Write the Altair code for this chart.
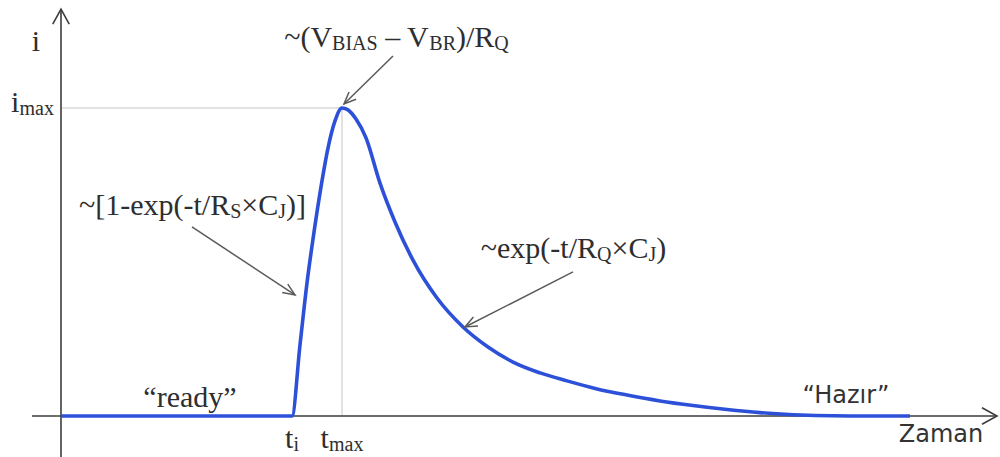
import math
import altair as alt
import pandas as pd

# Current pulse of a quenched avalanche: time t (arbitrary units), current i (fraction of i_max)
t_curve = [0.00, 2.31, 2.39, 2.46, 2.53, 2.60, 2.67, 2.74, 2.81, 2.87, 2.95, 3.05, 3.19,
           3.34, 3.52, 3.76, 4.02, 4.27, 4.52, 4.79, 5.06, 5.36, 5.66, 5.99, 6.32, 6.66,
           6.99, 7.24, 7.54, 7.89, 8.49]
i_curve = [0.0, 0.0, 0.231, 0.432, 0.597, 0.744, 0.870, 0.958, 1.00, 0.994, 0.964, 0.903,
           0.756, 0.63, 0.506, 0.383, 0.289, 0.224, 0.175, 0.140, 0.114, 0.088, 0.068,
           0.049, 0.034, 0.021, 0.011, 0.0058, 0.0016, 0.0, 0.0]

T_I = 2.31      # avalanche trigger
T_MAX = 2.81    # peak time
I_MAX = 1.0     # peak current

# axis extents
T_AXIS = [-0.29, 9.36]
I_AXIS = [-0.14, 1.321]

# annotation arrows: (start t, start i, tip t, tip i)
arrows = [
    (3.32, 1.169, 2.83, 1.013),
    (1.31, 0.614, 2.34, 0.393),
    (5.12, 0.468, 4.04, 0.289),
]

W, H = 1000, 457
T_DOMAIN = [-0.61, 9.39]
I_DOMAIN = [-41 / 308, 416 / 308]
PX_T = W / (T_DOMAIN[1] - T_DOMAIN[0])
PX_I = H / (I_DOMAIN[1] - I_DOMAIN[0])

xs = alt.Scale(domain=T_DOMAIN, nice=False, zero=False)
ys = alt.Scale(domain=I_DOMAIN, nice=False, zero=False)

# Times-metric advance widths (per 1000 em) for laying out subscript runs
ADV = {'~': 541, '(': 333, ')': 333, '[': 333, ']': 333, 'V': 722, 'B': 667, 'I': 333,
       'A': 722, 'S': 556, 'R': 667, 'Q': 722, '–': 500, ' ': 250, '/': 278, '1': 500,
       '-': 333, 'e': 444, 'x': 500, 'p': 500, 't': 278, '×': 564, 'C': 667, 'J': 389,
       'r': 333, 'a': 444, 'd': 500, 'y': 500, 'm': 778, 'i': 278, '“': 444, '”': 444}


def rich(pieces, t_anchor, i_base, anchor="center", main=30, sub=20, drop=3):
    widths = [sum(ADV[c] for c in txt) * (sub if s else main) / 1000 for txt, s in pieces]
    x = -sum(widths) / 2 if anchor == "center" else 0.0
    rows = []
    for (txt, s), w in zip(pieces, widths):
        size = sub if s else main
        lead = len(txt) - len(txt.lstrip(' '))
        off = x + lead * ADV[' '] * size / 1000
        rows.append(dict(t=t_anchor + off / PX_T,
                         i=i_base - (drop / PX_I if s else 0.0),
                         label=txt.strip(), size=size))
        x += w
    return rows


serif_rows = []
serif_rows += rich([("~(V", 0), ("BIAS", 1), (" – V", 0), ("BR", 1), (")/R", 0), ("Q", 1)], 3.355, 1.198)
serif_rows += rich([("~[1-exp(-t/R", 0), ("S", 1), ("×C", 0), ("J", 1), (")]", 0)], 1.315, 0.653)
serif_rows += rich([("~exp(-t/R", 0), ("Q", 1), ("×C", 0), ("J", 1), (")", 0)], 5.125, 0.513)
serif_rows += rich([("“ready”", 0)], 1.29, 0.029)
serif_rows += rich([("t", 0), ("i", 1)], T_I, -0.104)
serif_rows += rich([("t", 0), ("max", 1)], T_MAX, -0.104)
serif_rows += rich([("i", 0), ("max", 1)], -0.285, 0.987)
serif_rows += rich([("i", 0)], -0.25, 1.185)
serif_df = pd.DataFrame(serif_rows)

sans_df = pd.DataFrame({
    "t": [7.85, 8.80],
    "i": [0.042, -0.084],
    "label": ["“Hazır”", "Zaman"],
})

curve_df = pd.DataFrame({"t": t_curve, "i": i_curve})

guide_df = pd.DataFrame({
    "t": [0.0, T_MAX], "t2": [T_MAX, T_MAX],
    "i": [I_MAX, 0.0], "i2": [I_MAX, I_MAX],
})

axes_df = pd.DataFrame({
    "t": [T_AXIS[0], 0.0], "t2": [T_AXIS[1], 0.0],
    "i": [0.0, I_AXIS[0]], "i2": [0.0, I_AXIS[1]],
})
axis_heads = pd.DataFrame({"t": [T_AXIS[1], 0.0], "i": [0.0, I_AXIS[1]], "angle": [0.0, 270.0]})

arrow_df = pd.DataFrame([dict(t=a, i=b, t2=c, i2=d) for a, b, c, d in arrows])


def heading(a, b, c, d):
    dx = (c - a) * PX_T
    dy = -(d - b) * PX_I
    return math.degrees(math.atan2(dy, dx)) % 360


arrow_heads = pd.DataFrame([dict(t=c, i=d, angle=heading(a, b, c, d)) for a, b, c, d in arrows])

X = lambda f="t": alt.X(f"{f}:Q", scale=xs, axis=None)
Y = lambda f="i": alt.Y(f"{f}:Q", scale=ys, axis=None)

guides = alt.Chart(guide_df).mark_rule(color="#d9d9d9", strokeWidth=1.5).encode(
    x=X(), x2="t2:Q", y=Y(), y2="i2:Q")

axes = alt.Chart(axes_df).mark_rule(color="#3d3d3d", strokeWidth=1.6).encode(
    x=X(), x2="t2:Q", y=Y(), y2="i2:Q")

axis_tips = alt.Chart(axis_heads).mark_point(
    shape="M -1 -0.55 L 0 0 L -1 0.55", filled=False, size=900,
    color="#3d3d3d", strokeWidth=1.6, opacity=1).encode(
    x=X(), y=Y(), angle=alt.Angle("angle:Q", scale=None))

pulse = alt.Chart(curve_df).mark_line(
    color="#2c50d8", strokeWidth=3.6, interpolate="monotone").encode(
    x=X(), y=Y(), order="t:Q")

pointer_lines = alt.Chart(arrow_df).mark_rule(color="#5a5a5a", strokeWidth=1.5).encode(
    x=X(), x2="t2:Q", y=Y(), y2="i2:Q")

pointer_tips = alt.Chart(arrow_heads).mark_point(
    shape="M -1 -0.42 L 0 0 L -1 0.42", filled=False, size=576,
    color="#5a5a5a", strokeWidth=1.5, opacity=1).encode(
    x=X(), y=Y(), angle=alt.Angle("angle:Q", scale=None))

serif_text = alt.Chart(serif_df).mark_text(
    font="Liberation Serif", align="left", baseline="alphabetic", color="#2e2e2e").encode(
    x=X(), y=Y(), text="label:N", size=alt.Size("size:Q", scale=None))

sans_text = alt.Chart(sans_df).mark_text(
    font="DejaVu Sans", align="center", baseline="alphabetic", fontSize=24,
    color="#333333").encode(x=X(), y=Y(), text="label:N")

chart = alt.layer(
    guides, axes, axis_tips, pulse, pointer_lines, pointer_tips, serif_text, sans_text
).properties(
    width=W, height=H, padding=0, autosize=alt.AutoSizeParams(type="none"),
    background="white"
).configure_view(stroke=None)

chart.save("out.html", embed_options={"renderer": "svg", "actions": False})
